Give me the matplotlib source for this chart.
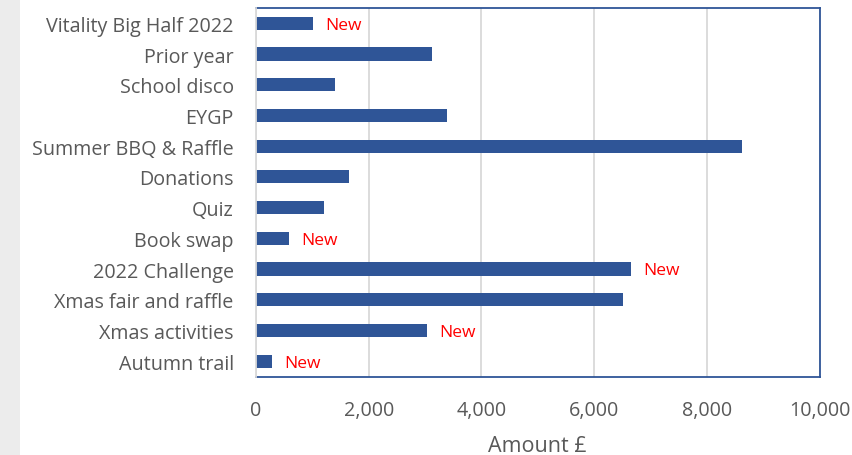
import matplotlib
matplotlib.use("Agg")
import matplotlib.pyplot as plt
from matplotlib.patches import Rectangle
from matplotlib.ticker import FuncFormatter

categories = ["Vitality Big Half 2022", "Prior year", "School disco", "EYGP",
              "Summer BBQ & Raffle", "Donations", "Quiz", "Book swap",
              "2022 Challenge", "Xmas fair and raffle", "Xmas activities", "Autumn trail"]
amounts = [1010, 3120, 1410, 3390, 8620, 1650, 1200, 580, 6650, 6520, 3030, 280]
is_new = [True, False, False, False, False, False, False, True, True, False, True, True]
new_label = "New"
xticks = [0, 2000, 4000, 6000, 8000, 10000]
xlabel = "Amount £"

plt.rcParams['font.family'] = ['Open Sans', 'DejaVu Sans']

fig = plt.figure(figsize=(8.53, 4.56), dpi=100)
fig.patches.append(Rectangle((0, 0), 20 / 853, 1, transform=fig.transFigure,
                             facecolor="#ECECEC", edgecolor="none", zorder=0))
ax = fig.add_axes([256 / 853, 1 - 377.5 / 456, (819.5 - 256) / 853, (377.5 - 9) / 456])

ypos = list(range(len(categories)))
ax.barh(ypos, amounts, height=0.43, color="#2F5597", zorder=3)
for y, v, n in zip(ypos, amounts, is_new):
    if n:
        ax.annotate(new_label, (v, y), xytext=(9, -1), textcoords="offset points",
                    ha="left", va="center", color="#FF0000", fontsize=12.5)

ax.set_ylim(len(categories) - 0.5, -0.5)
ax.set_yticks(ypos)
ax.set_yticklabels(categories, fontsize=14.2, color="#595959")
ax.set_xlim(0, 10000)
ax.set_xticks(xticks)
ax.xaxis.set_major_formatter(FuncFormatter(lambda v, p: f"{int(v):,}"))
ax.tick_params(axis="x", labelsize=14.2, labelcolor="#595959", length=0, pad=17)
ax.tick_params(axis="y", length=0, pad=16)
ax.set_xlabel(xlabel, fontsize=15.5, color="#595959", labelpad=11)
ax.grid(axis="x", color="#D9D9D9", linewidth=1.3, zorder=0)
ax.set_axisbelow(True)
for s in ["top", "right", "bottom"]:
    ax.spines[s].set_color("#2F5597")
    ax.spines[s].set_linewidth(1.3)
ax.spines["left"].set_color("#D9D9D9")
ax.spines["left"].set_linewidth(1.3)
ax.spines["left"].set_zorder(4)

fig.savefig("out.png", dpi=100)
